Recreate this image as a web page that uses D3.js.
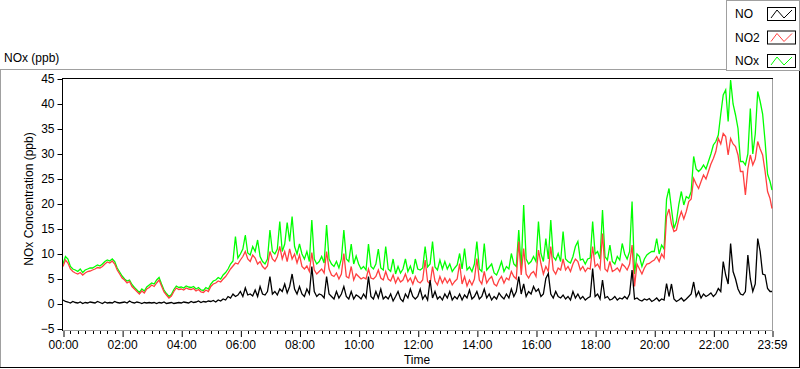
<!DOCTYPE html>
<html>
<head>
<meta charset="utf-8">
<script src="https://cdn.jsdelivr.net/npm/d3@7"></script>
<style>
  body { margin: 0; background: #fff; }
  svg { display: block; font-family: "Liberation Sans", Arial, sans-serif; }
  .tick text { font-size: 12px; fill: #000; }
</style>
</head>
<body>
<svg id="chart" width="800" height="369"></svg>
<script>
// series names + colours (legend order)
var seriesNames = ["NO", "NO2", "NOx"];
var seriesColors = ["#000000", "#ff4040", "#00ff00"];

// x ticks, minutes after midnight
var tickMinutes = [0, 120, 240, 360, 480, 600, 720, 840, 960, 1080, 1200, 1320, 1439];
var tickLabels = ["00:00", "02:00", "04:00", "06:00", "08:00", "10:00", "12:00", "14:00", "16:00", "18:00", "20:00", "22:00", "23:59"];
var yTicks = [-5, 0, 5, 10, 15, 20, 25, 30, 35, 40, 45];

// readings every 5 minutes, one row per hour (last row ends at 23:59)
var noValues = [
  0.8, 0.5, 0.4, 0.2, 0.5, 0.3, 0.2, 0.4, 0.1, 0.3, 0.2, 0.4,
  0.3, 0.2, 0.5, 0.3, 0.1, 0.4, 0.2, 0.3, 0.2, 0.5, 0.3, 0.2,
  0.3, 0.4, 0.2, 0.6, 0.3, 0.2, 0.4, 0.3, 0.1, 0.3, 0.2, 0.3,
  0.2, 0.3, 0.1, 0.3, 0.2, 0.4, 0.1, 0.2, 0.3, 0.1, 0.2, 0.3,
  0.2, 0.4, 0.3, 0.2, 0.5, 0.3, 0.4, 0.6, 0.3, 0.5, 0.4, 0.6,
  0.5, 0.7, 0.4, 0.8, 0.6, 1.0, 0.8, 1.5, 1.2, 2.0, 1.5, 1.8,
  2.5, 1.5, 3.2, 1.8, 2.0, 1.6, 2.8, 1.5, 3.5, 2.0, 1.8, 2.5,
  5.5, 2.0, 2.5, 1.8, 3.0, 2.5, 4.0, 2.2, 3.5, 6.0, 3.0, 2.0,
  3.5, 2.0, 1.5, 3.0, 2.0, 7.5, 2.5, 1.5, 2.0, 1.8, 1.2, 5.5,
  2.0, 1.5, 1.0, 2.5, 1.2, 2.0, 3.5, 1.5, 1.0, 2.5, 1.0, 1.8,
  1.5, 1.0, 2.0, 1.2, 5.5, 1.5, 1.0, 2.5, 1.2, 3.0, 1.0, 1.5,
  1.0, 2.0, 0.6, 1.5, 2.5, 1.0, 0.5, 2.0, 1.2, 3.0, 1.5, 1.0,
  1.5, 3.0, 1.0, 1.8, 0.8, 4.8, 1.2, 2.5, 1.0, 1.5, 0.8, 2.0,
  1.2, 2.5, 0.8, 1.5, 1.0, 2.0, 0.8, 1.8, 1.2, 2.8, 1.0, 1.5,
  2.5, 1.0, 1.5, 3.0, 1.2, 2.0, 0.8, 1.5, 1.0, 2.2, 1.5, 1.0,
  2.0, 1.2, 3.0, 1.5, 2.5, 5.5, 2.0, 4.0, 1.5, 2.5, 2.0, 3.5,
  2.5, 3.0, 1.5, 2.0, 5.1, 6.1, 2.0, 1.2, 2.5, 1.5, 1.2, 1.8,
  1.0, 1.5, 0.8, 2.5, 1.2, 2.0, 1.0, 1.5, 0.8, 1.2, 1.5, 7.1,
  1.5, 2.0, 1.0, 4.8, 1.2, 1.5, 0.8, 1.0, 1.5, 0.8, 1.2, 1.0,
  1.5, 1.0, 2.0, 6.8, 1.0, 1.2, 0.8, 0.6, 1.0, 0.8, 1.1, 0.5,
  0.8, 1.2, 0.6, 1.0, 0.8, 4.1, 1.5, 4.0, 1.0, 0.5, 0.8, 1.2,
  0.6, 1.0, 1.5, 2.0, 4.4, 1.5, 2.5, 1.2, 2.0, 1.5, 1.8, 2.2,
  1.5, 2.0, 3.1, 2.5, 8.5, 5.8, 4.0, 12.1, 6.5, 5.0, 3.0, 2.0,
  1.8, 2.5, 9.8, 5.0, 2.5, 4.0, 13.1, 10.5, 6.0, 5.8, 3.1, 2.5, 2.5
];

var no2Values = [
  7.5, 8.8, 8.2, 7.0, 6.5, 6.2, 6.0, 6.3, 5.8, 6.2, 6.5, 6.6,
  6.8, 7.0, 7.3, 7.2, 7.5, 8.0, 8.4, 8.2, 8.6, 8.0, 6.8, 6.0,
  5.2, 4.8, 4.2, 4.5, 3.5, 3.0, 2.5, 2.0, 2.6, 2.2, 3.0, 3.3,
  3.8, 3.5, 4.2, 4.8, 3.6, 2.4, 1.8, 1.2, 1.6, 2.5, 3.2, 2.9,
  3.0, 2.8, 3.2, 3.0, 2.9, 3.1, 2.6, 2.9, 2.4, 2.3, 2.8, 2.5,
  3.5, 4.0, 4.2, 4.6, 4.4, 5.0, 5.5, 6.2, 7.0, 7.6, 8.2, 8.0,
  8.8, 9.5, 10.5, 9.0, 8.5, 9.8, 9.2, 8.0, 8.5, 7.5, 7.0, 7.6,
  10.5, 9.0, 8.5, 9.5, 11.5, 9.0, 10.5, 8.5, 11.0, 9.0, 10.0, 8.2,
  9.8, 7.5, 7.0, 7.6, 6.5, 10.3, 6.8, 6.0, 6.5, 7.0, 6.2, 10.5,
  7.0, 5.8, 5.5, 6.2, 5.0, 6.0, 10.1, 5.5, 5.2, 7.5, 4.8, 6.0,
  5.5, 5.0, 5.3, 5.0, 7.0, 5.2, 5.0, 5.5, 6.8, 5.2, 4.8, 6.5,
  5.0, 4.6, 5.8, 4.2, 5.3, 4.4, 4.8, 6.0, 4.5, 5.2, 4.0, 5.5,
  4.5, 4.2, 4.8, 8.8, 4.5, 4.0, 7.5, 4.6, 3.8, 5.5, 4.2, 5.2,
  4.2, 5.0, 3.8, 4.5, 5.0, 8.1, 4.0, 5.5, 3.6, 4.8, 3.8, 5.0,
  9.1, 4.8, 4.0, 6.5, 4.2, 5.0, 5.5, 4.0, 3.6, 4.8, 5.5, 4.2,
  5.2, 4.8, 6.5, 5.5, 5.0, 12.5, 5.8, 11.1, 6.0, 5.2, 6.1, 6.5,
  5.5, 10.8, 8.1, 6.0, 7.5, 6.5, 11.5, 6.8, 6.0, 7.2, 6.8, 9.0,
  6.8, 7.5, 6.5, 8.0, 9.0, 8.5, 6.8, 7.5, 6.5, 7.2, 7.0, 11.5,
  7.5, 8.0, 7.0, 14.1, 7.0, 6.5, 8.5, 6.5, 6.8, 7.2, 6.5, 8.0,
  7.5, 6.8, 8.0, 11.8, 3.5, 8.0, 7.0, 6.0, 7.2, 8.0, 8.1, 8.5,
  8.8, 9.5, 8.5, 10.0, 9.2, 17.5, 19.0, 16.0, 14.5, 14.8, 17.0, 18.5,
  17.0, 18.5, 20.5, 21.0, 25.1, 24.0, 23.1, 24.5, 25.8, 25.0, 26.5, 28.0,
  29.1, 30.5, 33.1, 32.0, 34.1, 33.5, 29.8, 33.1, 32.0, 31.5, 29.8, 26.5,
  26.5, 21.8, 27.0, 29.8, 27.8, 29.0, 32.5, 31.0, 29.8, 26.5, 22.5, 21.1, 19.1
];

var noxValues = [
  8.0, 9.5, 9.0, 7.5, 7.0, 6.8, 6.5, 7.0, 6.3, 6.8, 7.0, 7.2,
  7.2, 7.5, 7.8, 7.6, 8.0, 8.5, 8.8, 8.6, 9.0, 8.5, 7.2, 6.4,
  5.6, 5.0, 4.6, 4.8, 3.9, 3.3, 2.8, 2.3, 3.0, 2.6, 3.4, 3.8,
  4.2, 4.0, 4.8, 5.3, 4.0, 2.8, 2.1, 1.5, 1.9, 2.9, 3.6, 3.3,
  3.4, 3.2, 3.6, 3.4, 3.3, 3.5, 3.0, 3.3, 2.8, 2.7, 3.3, 3.0,
  4.0, 4.6, 4.8, 5.3, 5.0, 5.8, 6.3, 7.0, 8.0, 8.6, 13.5, 9.2,
  10.0, 11.0, 13.8, 10.2, 9.8, 11.5, 10.5, 12.8, 9.5, 8.5, 8.0, 9.0,
  14.8, 10.5, 10.0, 11.0, 16.5, 10.5, 12.0, 16.3, 12.5, 17.5, 11.5, 10.0,
  12.0, 10.0, 9.0, 10.5, 8.5, 16.8, 9.0, 8.0, 8.5, 9.5, 8.2, 15.8,
  9.0, 8.0, 7.5, 8.5, 7.2, 9.0, 14.8, 9.0, 8.5, 12.0, 8.0, 9.6,
  8.0, 7.0, 7.5, 6.8, 12.0, 7.5, 7.0, 8.0, 11.0, 7.2, 6.8, 11.5,
  7.0, 6.5, 9.0, 6.0, 7.5, 6.2, 7.0, 9.0, 6.5, 7.6, 6.0, 9.0,
  7.0, 6.8, 7.2, 11.5, 7.4, 8.0, 12.5, 7.4, 6.8, 8.8, 7.0, 8.5,
  7.0, 8.0, 6.5, 7.2, 7.8, 10.1, 7.0, 11.1, 6.8, 7.4, 6.5, 8.0,
  12.5, 7.0, 6.5, 12.1, 6.8, 7.4, 8.0, 6.2, 5.8, 7.0, 8.5, 6.5,
  7.5, 7.0, 10.1, 8.0, 7.5, 14.8, 7.2, 19.8, 9.0, 8.0, 8.5, 9.5,
  8.5, 16.5, 10.1, 8.5, 13.1, 9.0, 16.8, 9.5, 8.8, 10.1, 8.5, 14.5,
  9.0, 8.5, 8.2, 9.5, 11.5, 12.5, 8.8, 9.0, 8.0, 9.0, 9.2, 16.5,
  10.0, 10.5, 9.0, 18.8, 9.5, 8.8, 11.8, 8.5, 8.0, 9.5, 8.8, 12.1,
  10.0, 9.0, 10.5, 20.5, 6.0, 10.0, 9.5, 7.5, 9.0, 9.8, 10.2, 10.5,
  10.5, 13.1, 10.0, 11.8, 11.0, 21.0, 23.1, 19.0, 15.1, 16.5, 20.0, 22.5,
  19.8, 21.5, 21.1, 22.5, 29.5, 27.0, 26.5, 27.0, 27.8, 27.0, 28.5, 30.0,
  31.8, 32.5, 33.8, 38.0, 41.8, 42.8, 36.5, 44.8, 40.0, 37.8, 35.1, 28.5,
  28.5, 27.8, 30.0, 39.1, 30.0, 34.0, 42.5, 40.5, 38.0, 32.5, 26.0, 24.5, 22.8
];

var svg = d3.select("#chart");
var W = 800, H = 369;
var plot = {left: 62, top: 78, right: 772, bottom: 330};

var minutes = d3.range(noValues.length).map(function (i) { return Math.min(i * 5, 1439); });

var x = d3.scaleLinear().domain([0, 1439]).range([plot.left + 1, plot.right]);
var y = d3.scaleLinear().domain([-5, 45]).range([329, 79]);

// outer frame
svg.append("line").attr("x1", 0).attr("x2", 726).attr("y1", 69.5).attr("y2", 69.5).attr("stroke", "#a0a0a0");
svg.append("line").attr("x1", 0.5).attr("x2", 0.5).attr("y1", 69).attr("y2", 368).attr("stroke", "#a0a0a0");
svg.append("line").attr("x1", 0).attr("x2", W).attr("y1", 367.5).attr("y2", 367.5).attr("stroke", "#000");
svg.append("line").attr("x1", 799.5).attr("x2", 799.5).attr("y1", 0).attr("y2", 368).attr("stroke", "#000");

svg.append("text").attr("x", 4).attr("y", 62).attr("font-size", "12px").text("NOx (ppb)");

// plot border
svg.append("line").attr("x1", plot.right + 0.5).attr("x2", plot.right + 0.5).attr("y1", plot.top).attr("y2", plot.bottom + 1).attr("stroke", "#a0a0a0");
svg.append("line").attr("x1", plot.left).attr("x2", plot.right + 1).attr("y1", plot.bottom + 0.5).attr("y2", plot.bottom + 0.5).attr("stroke", "#a0a0a0");
svg.append("line").attr("x1", plot.left).attr("x2", plot.right + 1).attr("y1", plot.top + 0.5).attr("y2", plot.top + 0.5).attr("stroke", "#000");

// lines, NOx underneath
var line = d3.line()
    .x(function (d, i) { return x(minutes[i]); })
    .y(function (d) { return y(d); });

var g = svg.append("g");
[noxValues, no2Values, noValues].forEach(function (vals, k) {
    var color = [seriesColors[2], seriesColors[1], seriesColors[0]][k];
    g.append("path")
        .datum(vals)
        .attr("fill", "none")
        .attr("stroke", color)
        .attr("stroke-width", 1.3)
        .attr("stroke-linejoin", "miter")
        .attr("d", line);
});

// y axis
var yAxis = d3.axisLeft(y).tickValues(yTicks).tickSize(5).tickPadding(3);
var ya = svg.append("g").attr("transform", "translate(" + (plot.left + 0.5) + ",0)").call(yAxis);
ya.select(".domain").attr("d", "M0," + plot.top + "V" + (plot.bottom + 1)).attr("stroke", "#000");

// x axis, minor ticks every 15 min
var minor = d3.range(0, 1440, 15).filter(function (m) { return m % 120 !== 0; });
var xg = svg.append("g").attr("transform", "translate(0," + (plot.bottom + 1) + ")");
xg.selectAll(".minor").data(minor).enter().append("line")
    .attr("x1", function (d) { return Math.round(x(d)) + 0.5; })
    .attr("x2", function (d) { return Math.round(x(d)) + 0.5; })
    .attr("y1", 0).attr("y2", 3).attr("stroke", "#000");
var xAxis = d3.axisBottom(x).tickValues(tickMinutes).tickSize(6).tickPadding(3)
    .tickFormat(function (d, i) { return tickLabels[i]; });
xg.call(xAxis);
xg.select(".domain").remove();
xg.selectAll(".tick line").attr("transform", "translate(0.5,0)");

// axis titles
svg.append("text").attr("transform", "translate(33," + 199 + ") rotate(-90)")
    .attr("text-anchor", "middle").attr("font-size", "12px").text("NOx Concentration (ppb)");
svg.append("text").attr("x", 417).attr("y", 364).attr("text-anchor", "middle")
    .attr("font-size", "12px").text("Time");

// legend
var lg = svg.append("g");
lg.append("rect").attr("x", 726.5).attr("y", 0.5).attr("width", 73).attr("height", 70)
    .attr("fill", "#fff").attr("stroke", "#a0a0a0");
var zig = d3.line();
seriesNames.forEach(function (name, i) {
    var cy = 14 + i * 23.5;
    lg.append("text").attr("x", 735).attr("y", cy + 4).attr("font-size", "12px").text(name);
    lg.append("rect").attr("x", 767.5).attr("y", cy - 6.5).attr("width", 28).attr("height", 13)
        .attr("fill", "#fff").attr("stroke", "#000");
    lg.append("path").attr("fill", "none").attr("stroke", seriesColors[i])
        .attr("d", zig([[771, cy + 4], [777, cy - 4], [784, cy + 4], [792, cy - 4]]));
});
</script>
</body>
</html>
